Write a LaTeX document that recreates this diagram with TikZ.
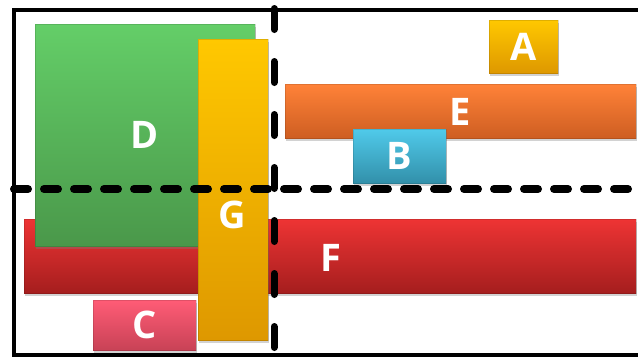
\documentclass[tikz,border=0pt]{standalone}
\usepackage{fontspec}
\setmainfont{Open Sans}
\usetikzlibrary{shadows}

% gradient pairs (top / bottom) for the blocks
\definecolor{greenTop}{RGB}{100,206,104}
\definecolor{greenBot}{RGB}{74,152,74}
\definecolor{goldTop}{RGB}{255,200,0}
\definecolor{goldBot}{RGB}{222,152,0}
\definecolor{orangeTop}{RGB}{255,130,56}
\definecolor{orangeBot}{RGB}{206,94,34}
\definecolor{blueTop}{RGB}{80,202,234}
\definecolor{blueBot}{RGB}{50,144,170}
\definecolor{redTop}{RGB}{238,52,52}
\definecolor{redBot}{RGB}{165,30,30}
\definecolor{pinkTop}{RGB}{255,92,118}
\definecolor{pinkBot}{RGB}{200,66,86}

\begin{document}
\begin{tikzpicture}[x=1pt,y=-1pt,
  block/.style={inner sep=0pt, outer sep=0pt, anchor=north west,
    draw=black, draw opacity=0.12, line width=0.8pt,
    text=white, font=\fontsize{38}{38}\selectfont\bfseries,
    drop shadow={shadow xshift=1pt, shadow yshift=-3pt, opacity=0.35}},
  greenblock/.style={block, top color=greenTop, bottom color=greenBot},
  goldblock/.style={block, top color=goldTop, bottom color=goldBot},
  orangeblock/.style={block, top color=orangeTop, bottom color=orangeBot},
  blueblock/.style={block, top color=blueTop, bottom color=blueBot},
  redblock/.style={block, top color=redTop, bottom color=redBot},
  pinkblock/.style={block, top color=pinkTop, bottom color=pinkBot},
  letter/.style={text=white, font=\fontsize{38}{38}\selectfont\bfseries, inner sep=0pt},
  frameline/.style={draw=black, line width=4pt},
  hdash/.style={draw=black, line width=8pt, line cap=round, dash pattern=on 14pt off 16pt},
  vdash/.style={draw=black, line width=7pt, line cap=round, dash pattern=on 21pt off 32pt}
]
\clip (0,0) rectangle (638,357);
\fill[white] (0,0) rectangle (638,357);

% blocks, back to front
\node[redblock, minimum width=612pt, minimum height=74pt] (F) at (24,219) {};
\node[letter] (Flabel) at (331,258) {F};
\node[greenblock, minimum width=220pt, minimum height=222pt] (D) at (35,24) {D};
\node[pinkblock, minimum width=103pt, minimum height=50pt] (C) at (93,300) {C};
\node[goldblock, minimum width=70pt, minimum height=301pt] (G) at (198,39) {};
\node[letter] (Glabel) at (232,215) {G};
\node[orangeblock, minimum width=351pt, minimum height=54pt] (E) at (285,84) {};
\node[letter] (Elabel) at (460,112) {E};
\node[blueblock, minimum width=93pt, minimum height=54pt] (B) at (353,129) {B};
\node[goldblock, minimum width=69pt, minimum height=53pt] (A) at (489,20) {A};

% outer frame
\draw[frameline] (14,10) rectangle (660,355);

% dashed dividers
\coordinate (vtop) at (274,8.5);
\coordinate (vbot) at (274,350);
\coordinate (hleft) at (14,189);
\coordinate (hright) at (660,189);
\draw[hdash] (hleft) -- (hright);
\draw[vdash] (vtop) -- (vbot);
\end{tikzpicture}
\end{document}
